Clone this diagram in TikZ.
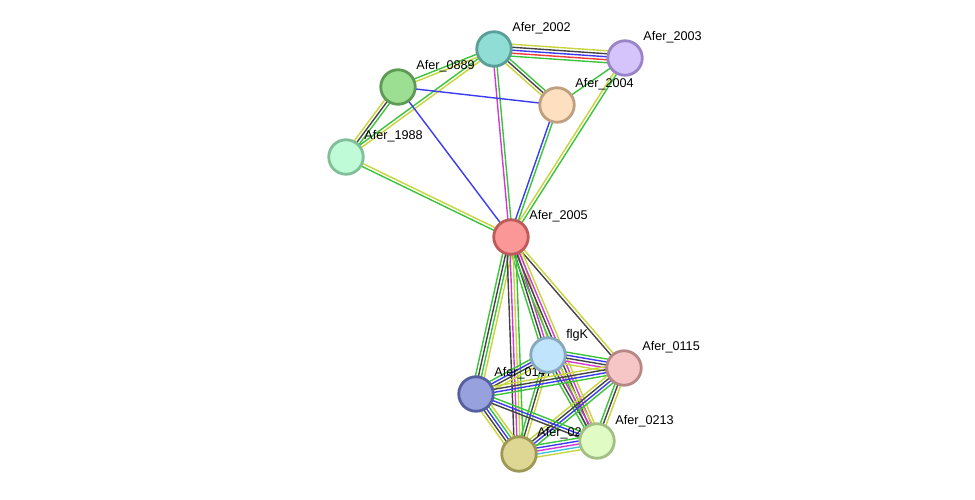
\documentclass[tikz,border=0pt]{standalone}
\usepackage{fontspec}
\setmainfont{Liberation Sans}
\usetikzlibrary{calc}
\definecolor{cgr}{HTML}{3BC43B}
\definecolor{cye}{HTML}{C8D43B}
\definecolor{cbl}{HTML}{3B3BF0}
\definecolor{cbk}{HTML}{444444}
\definecolor{cmg}{HTML}{D23BD2}
\definecolor{crd}{HTML}{F03B3B}
\definecolor{ccy}{HTML}{3BC4E0}
% protein fill / border colours
\definecolor{f2002}{HTML}{8FDDD5}\definecolor{d2002}{HTML}{5A9E98}
\definecolor{f2003}{HTML}{D5C4FB}\definecolor{d2003}{HTML}{9A83C6}
\definecolor{f0889}{HTML}{9DDF92}\definecolor{d0889}{HTML}{5D9A55}
\definecolor{f2004}{HTML}{FDE0C0}\definecolor{d2004}{HTML}{BF9F7F}
\definecolor{f1988}{HTML}{C0FBD8}\definecolor{d1988}{HTML}{80BF98}
\definecolor{f2005}{HTML}{FC9797}\definecolor{d2005}{HTML}{BD5A5A}
\definecolor{fflgK}{HTML}{C0E4FB}\definecolor{dflgK}{HTML}{87A8BD}
\definecolor{f0115}{HTML}{F6C6C6}\definecolor{d0115}{HTML}{B68787}
\definecolor{f0147}{HTML}{97A1DE}\definecolor{d0147}{HTML}{5660A0}
\definecolor{f0213}{HTML}{E0FCC4}\definecolor{d0213}{HTML}{A3BF86}
\definecolor{f0212}{HTML}{DDD793}\definecolor{d0212}{HTML}{9E9855}
\tikzset{
  prot/.style={circle, minimum size=34.5*0.02cm, line width=1.6pt, inner sep=0pt},
  lbl/.style={anchor=base west, inner sep=0pt, font=\fontsize{7.2}{9}\selectfont},
  lnk/.style={line width=0.8pt},
}
% \edge{from}{to}{colours}
\newcommand{\edge}[3]{%
  \foreach \c [count=\i] in {#3} {\xdef\ncol{\i}}%
  \foreach \c [count=\i] in {#3} {
    \pgfmathsetmacro{\off}{(\i-(\ncol+1)/2)*1.7}
    \draw[lnk, \c] ($(#1)!\off pt!90:(#2)$) -- ($(#2)!\off pt!-90:(#1)$);
  }}
\begin{document}
\begin{tikzpicture}[x=0.02cm, y=-0.02cm]
\useasboundingbox (0,0) rectangle (975,500);
% positions
\coordinate (p2002) at (494,49);
\coordinate (p2003) at (625,58);
\coordinate (p0889) at (398,87);
\coordinate (p2004) at (557,105);
\coordinate (p1988) at (346,157);
\coordinate (p2005) at (511,237);
\coordinate (pflgK) at (548,355);
\coordinate (p0115) at (624,368);
\coordinate (p0147) at (476,394);
\coordinate (p0213) at (597,441);
\coordinate (p0212) at (519,454);

% links
\edge{p2002}{p2003}{cgr,crd,cbl,cbk,cye}
\edge{p2002}{p2004}{cye,cbk,cgr}
\edge{p2002}{p0889}{cgr,cye}
\edge{p2002}{p1988}{cgr,cye}
\edge{p2002}{p2005}{cmg,cgr}
\edge{p2003}{p2004}{cgr}
\edge{p2003}{p2005}{cye,cgr}
\edge{p0889}{p2004}{cbl}
\edge{p0889}{p1988}{cye,cbk,cgr}
\edge{p0889}{p2005}{cbl}
\edge{p1988}{p2005}{cgr,cye}
\edge{p2004}{p2005}{cbl,cgr}
\edge{p2005}{pflgK}{cgr,cbk,cmg,cye}
\edge{p2005}{p0115}{cbk,cye}
\edge{p2005}{p0147}{cgr,cbk,cgr,cye}
\edge{p2005}{p0213}{cgr,cbk,cmg,cye}
\edge{p2005}{p0212}{cbk,cmg,cye,cgr}
\edge{pflgK}{p0115}{cye,cmg,cbk,cbl,cgr}
\edge{pflgK}{p0147}{cgr,cbl,cbk,cye}
\edge{pflgK}{p0213}{cgr,cbk,cmg,cye}
\edge{pflgK}{p0212}{cgr,cbk,cye}
\edge{p0115}{p0147}{cye,cbk,cbl,cgr}
\edge{p0115}{p0213}{cgr,cbk,cye}
\edge{p0115}{p0212}{cye,cbk,cbl,cgr}
\edge{p0147}{p0213}{cbk,cbl,cgr}
\edge{p0147}{p0212}{cye,cbk,cbl,cgr,cye}
\edge{p0213}{p0212}{cgr,cbl,cmg,ccy,cye}

% labels
\foreach \p/\t in {p2002/Afer\_2002, p2003/Afer\_2003, p0889/Afer\_0889,
  p2004/Afer\_2004, p1988/Afer\_1988, p2005/Afer\_2005, pflgK/flgK,
  p0115/Afer\_0115, p0147/Afer\_0147, p0213/Afer\_0213, p0212/Afer\_0212}
  \node[lbl] at ($(\p)+(18,-17)$) {\t};

% proteins
\foreach \k in {2002,2003,0889,2004,1988,2005,flgK,0115,0147,0213,0212}
  \node[prot, fill=f\k, draw=d\k] (n\k) at (p\k) {};
\end{tikzpicture}
\end{document}
